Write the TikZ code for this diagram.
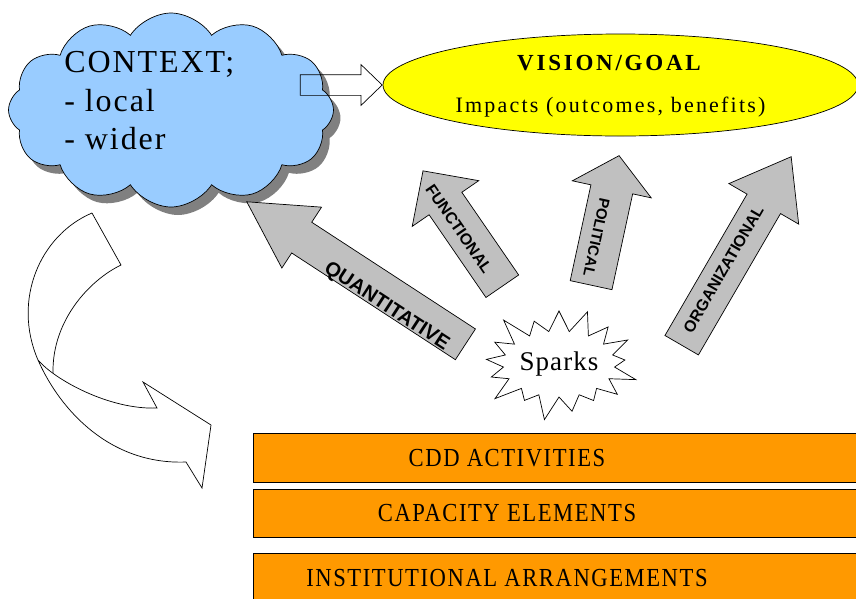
\documentclass[tikz,border=0pt]{standalone}
\usepackage{fontspec}
\setmainfont{Liberation Serif}
\setsansfont{Liberation Sans}
\usetikzlibrary{shapes,shapes.geometric,shapes.symbols,shapes.arrows,shadows,calc}
\definecolor{cloudblue}{HTML}{99CCFF}
\definecolor{shadowgray}{HTML}{808080}
\definecolor{goalyellow}{HTML}{FFFF00}
\definecolor{pushgray}{HTML}{C0C0C0}
\definecolor{barorange}{HTML}{FF9900}
\tikzstyle{bubble} = [cloud, draw, fill=cloudblue, cloud puffs=12, cloud puff arc=115,
    cloud ignores aspect, minimum width=325pt, minimum height=194pt,
    drop shadow={shadow xshift=7pt, shadow yshift=-8pt, fill=shadowgray, opacity=1}]
\tikzstyle{goal} = [ellipse, draw, fill=goalyellow, minimum width=475pt, minimum height=102pt, inner sep=0pt]
\tikzstyle{push} = [single arrow, draw, fill=pushgray, inner xsep=0pt, anchor=tail]
\tikzstyle{pushlabel} = [inner sep=0pt, text depth=0pt]
\tikzstyle{spark} = [starburst, draw, fill=white, starburst points=17, starburst point height=28pt,
    minimum width=135pt, minimum height=122pt, inner sep=0pt]
\tikzstyle{stratum} = [rectangle, draw, fill=barorange, anchor=north west, minimum width=620pt, inner sep=0pt]
\tikzstyle{stratumtext} = [inner sep=0pt,
    font=\addfontfeatures{FakeStretch=0.87,LetterSpace=6}\fontsize{26}{31}\selectfont]

\begin{document}
\begin{tikzpicture}[x=1pt, y=-1pt, line width=0.7pt]
	\useasboundingbox (0,0) rectangle (856,598);

	% context cloud and the goal
	\node [bubble] (context) at (171,110) {};
	\node [anchor=north west, align=left, inner sep=0pt,
	       font=\addfontfeatures{LetterSpace=6}\fontsize{32}{38.5}\selectfont] (contextlines) at (64,51) {CONTEXT;\\- local\\- wider};
	\node [goal] (vision) at (620.5,85) {};
	\node [anchor=base, inner sep=0pt, font=\bfseries\addfontfeatures{LetterSpace=12}\fontsize{23}{28}\selectfont] (visiontitle) at (609,70) {VISION/GOAL};
	\node [anchor=base, inner sep=0pt, font=\addfontfeatures{LetterSpace=10}\fontsize{22}{26}\selectfont] (impacts) at (610.5,112) {Impacts (outcomes, benefits)};
	\node [single arrow, draw, anchor=tip, minimum height=82pt, inner xsep=0pt, inner ysep=10pt,
	       single arrow head extend=10pt, single arrow tip angle=88] (link) at (vision.west) {};

	% the four pushes
	\node [push, rotate=146.9, minimum height=261pt, inner ysep=18pt, single arrow head extend=18pt, single arrow tip angle=58] (quant) at (465.7,344.5) {};
	\node [push, rotate=124.5, minimum height=140pt, inner ysep=19.5pt, single arrow head extend=20.5pt, single arrow tip angle=91] (func) at (502.5,286.5) {};
	\node [push, rotate=77.8, minimum height=132.5pt, inner ysep=21pt, single arrow head extend=19pt, single arrow tip angle=99] (pol) at (591,285.5) {};
	\node [push, rotate=59.85, minimum height=218pt, inner ysep=19pt, single arrow head extend=21pt, single arrow tip angle=73] (org) at (681.5,345.5) {};

	\node [pushlabel, rotate=-33.1, font=\sffamily\bfseries\fontsize{20}{24}\selectfont] (quanttext) at (387.5,305) {QUANTITATIVE};
	\node [pushlabel, rotate=-55.5, font=\sffamily\bfseries\fontsize{16}{19}\selectfont] (functext) at (459,229) {FUNCTIONAL};
	\node [pushlabel, rotate=-102.2, font=\sffamily\bfseries\fontsize{15}{18}\selectfont] (poltext) at (596.7,237.5) {POLITICAL};
	\node [pushlabel, rotate=59.85, font=\sffamily\bfseries\fontsize{16}{19}\selectfont] (orgtext) at (723.3,269.2) {ORGANIZATIONAL};

	\node [spark, font=\addfontfeatures{LetterSpace=4}\fontsize{27}{32}\selectfont] (sparks) at (559,364) {Sparks};

	% layers
	\node [stratum, minimum height=49pt] (cdd) at (253,433) {};
	\node [stratum, minimum height=48pt] (capacity) at (253,489) {};
	\node [stratum, minimum height=49pt] (inst) at (253,553) {};
	\node [stratumtext] (cddtext) at ($(cdd.west)+(254,0)$) {CDD ACTIVITIES};
	\node [stratumtext] (capacitytext) at ($(capacity.west)+(254,0)$) {CAPACITY ELEMENTS};
	\node [stratumtext] (insttext) at ($(inst.west)+(254,0)$) {INSTITUTIONAL ARRANGEMENTS};

	% curved arrow down to the layers
	\draw (92,213) .. controls (40,235) and (12,300) .. (38,360)
	      .. controls (60,410) and (110,465) .. (186,462) -- (202,488) -- (211,425)
	      -- (143,382) -- (157,408) .. controls (110,410) and (55,380) .. (38,360);
	\draw (92,213) -- (121,265) .. controls (90,280) and (52,320) .. (53,373);
\end{tikzpicture}
\end{document}
